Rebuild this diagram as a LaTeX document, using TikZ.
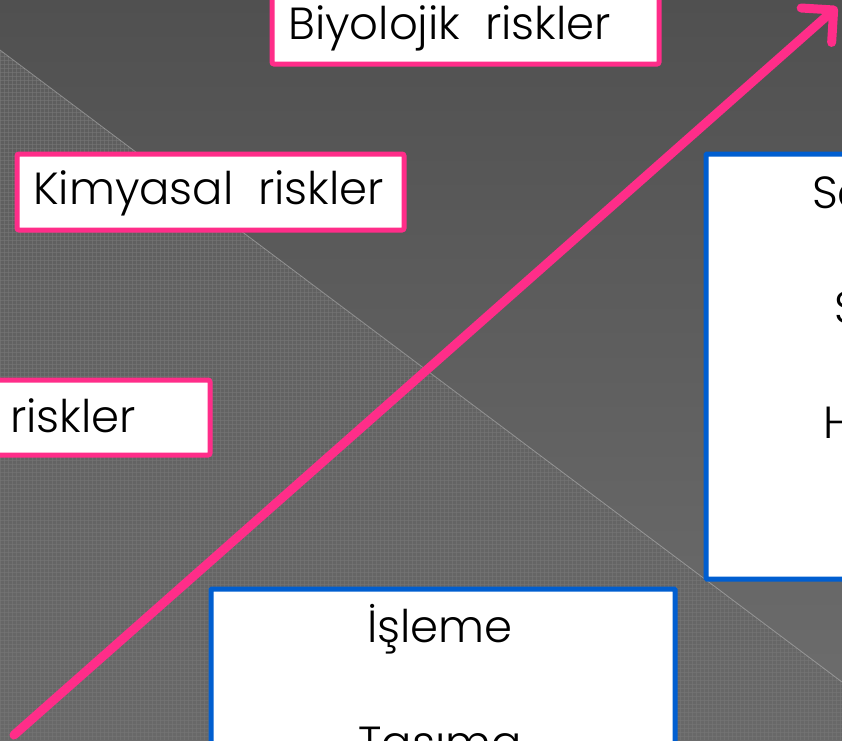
\documentclass[tikz,border=0pt]{standalone}
\usepackage{fontspec}
\setmainfont{Poppins Light}
\usetikzlibrary{arrows.meta}

\definecolor{riskpink}{RGB}{255,45,137}
\definecolor{stepblue}{RGB}{0,94,208}
\definecolor{bgtop}{RGB}{80,80,80}
\definecolor{bgbot}{RGB}{110,110,110}
\definecolor{textop}{RGB}{92,92,92}
\definecolor{texbot}{RGB}{104,104,104}
\definecolor{texgrid}{RGB}{118,118,118}

\tikzset{
  pinkbox/.style={draw=riskpink, fill=white, line width=5pt, rounded corners=2pt,
    anchor=north west, inner sep=0pt},
  bluebox/.style={draw=stepblue, fill=white, line width=5pt, rounded corners=1pt,
    anchor=north west, inner sep=0pt},
  risklabel/.style={anchor=base west, inner sep=0pt, text=black,
    font=\fontsize{45}{53}\selectfont},
  steplabel/.style={anchor=base, inner sep=0pt, text=black,
    font=\fontsize{45}{53}\selectfont},
  stepcut/.style={anchor=base west, inner sep=0pt, text=black,
    font=\fontsize{45}{53}\selectfont},
  gridline/.style={draw=texgrid, line width=0.5pt, opacity=0.6},
  trend/.style={draw=riskpink, line width=9pt, line cap=round,
    -{Straight Barb[length=23pt, width=46pt, round]}},
}

\begin{document}
\begin{tikzpicture}[x=1pt, y=-1pt]
  \useasboundingbox (0,0) rectangle (842,740);
  \clip (0,0) rectangle (842,740);

  % background: dark upper half, textured lower half
  \shade[top color=bgtop, bottom color=bgbot] (0,0) rectangle (842,740);
  \begin{scope}
    \clip (0,50) -- (842,682) -- (842,740) -- (0,740) -- cycle;
    \shade[top color=textop, bottom color=texbot] (0,0) rectangle (842,740);
    \foreach \gx in {0,4,...,844} \draw[gridline] (\gx,0) -- (\gx,740);
    \foreach \gy in {0,4,...,740} \draw[gridline] (0,\gy) -- (842,\gy);
  \end{scope}
  \draw[draw=white, opacity=0.3, line width=0.8pt] (0,50) -- (842,682);

  % rising arrow
  \coordinate (arrowStart) at (14,735);
  \coordinate (arrowEnd) at (837,7);
  \draw[trend] (arrowStart) -- (arrowEnd);

  % risk boxes
  \node[pinkbox, minimum width=387pt, minimum height=81.5pt] (bioBox) at (269.5,-20) {};
  \node[pinkbox, minimum width=387pt, minimum height=76pt] (chemBox) at (14.5,151.5) {};
  \node[pinkbox, minimum width=387.5pt, minimum height=75pt] (physBox) at (-180,377.5) {};
  \node[risklabel] (bioText) at (288,39) {Biyolojik\ \ riskler};
  \node[risklabel] (chemText) at (33,204) {Kimyasal\ \ riskler};
  \node[risklabel] (physText) at (10,432) {riskler};

  % process step boxes
  \node[bluebox, minimum width=400pt, minimum height=425pt] (rightBox) at (703.5,151.5) {};
  \node[bluebox, minimum width=464pt, minimum height=250pt] (bottomBox) at (208.5,586.5) {};
  \node[stepcut] (rightA) at (812,208) {Sa};
  \node[stepcut] (rightB) at (834,323) {S};
  \node[stepcut] (rightC) at (823,438) {H};
  \node[steplabel] (stepA) at (440,642) {İşleme};
  \node[steplabel] (stepB) at (440,758) {Taşıma};
\end{tikzpicture}
\end{document}
